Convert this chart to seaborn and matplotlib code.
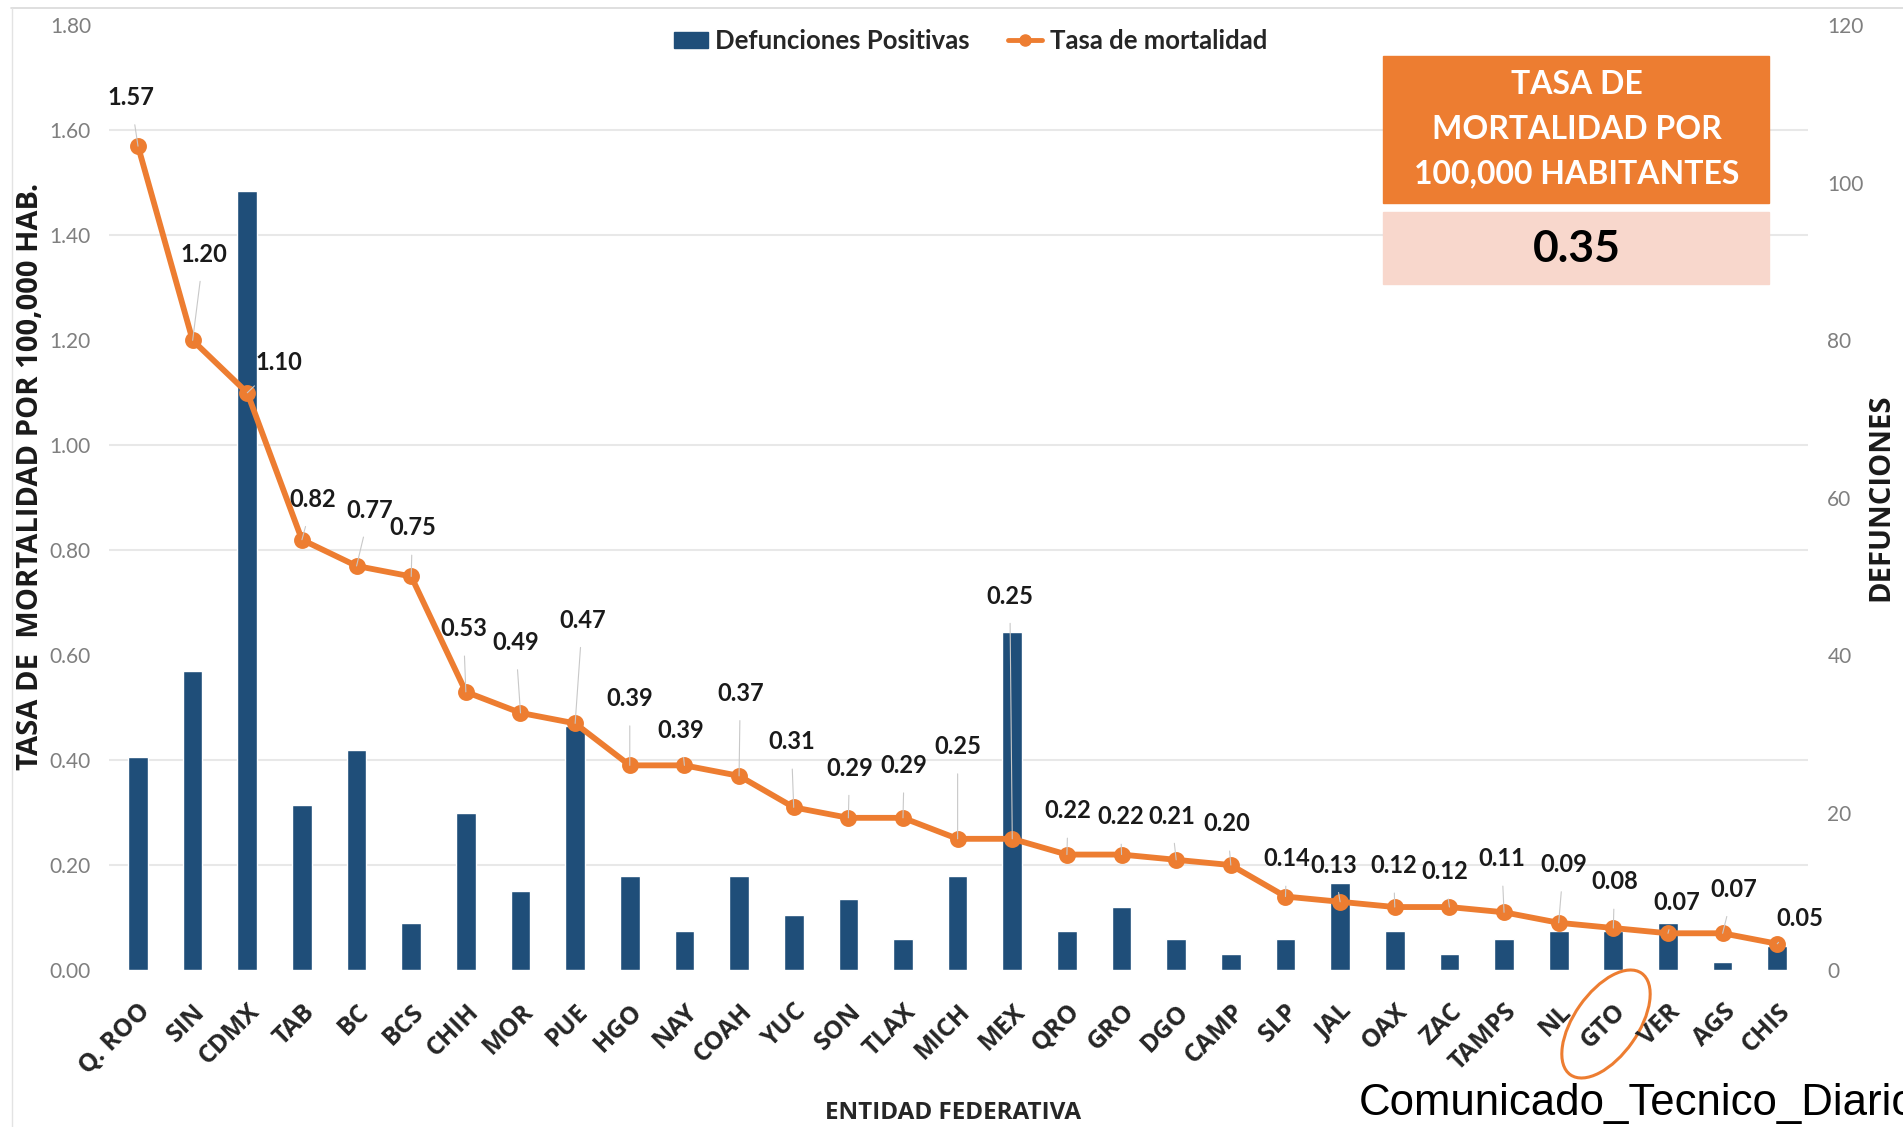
import numpy as np
import pandas as pd
import seaborn as sns
import matplotlib.pyplot as plt
from matplotlib.patches import Rectangle, Ellipse
from matplotlib.lines import Line2D
from matplotlib.ticker import FixedLocator
from matplotlib.transforms import IdentityTransform

# datos
entidades = ["Q. ROO", "SIN", "CDMX", "TAB", "BC", "BCS", "CHIH", "MOR", "PUE", "HGO",
             "NAY", "COAH", "YUC", "SON", "TLAX", "MICH", "MEX", "QRO", "GRO", "DGO",
             "CAMP", "SLP", "JAL", "OAX", "ZAC", "TAMPS", "NL", "GTO", "VER", "AGS", "CHIS"]
tasa = [1.57, 1.20, 1.10, 0.82, 0.77, 0.75, 0.53, 0.49, 0.47, 0.39,
        0.39, 0.37, 0.31, 0.29, 0.29, 0.25, 0.25, 0.22, 0.22, 0.21,
        0.20, 0.14, 0.13, 0.12, 0.12, 0.11, 0.09, 0.08, 0.07, 0.07, 0.05]
defunciones = [27, 38, 99, 21, 28, 6, 20, 10, 31, 12,
               5, 12, 7, 9, 4, 12, 43, 5, 8, 4,
               2, 4, 11, 5, 2, 4, 5, 5, 6, 1, 3]
tasa_nacional = "0.35"

# desplazamiento de cada etiqueta respecto a su punto (px)
label_off = [(-6, 40), (9, 71), (26, 25), (9, 33), (11, 46), (1, 40), (-2, 52), (-4, 58),
             (6, 85), (0, 55), (-3, 29), (1, 68), (-2, 54), (1, 41), (1, 43), (0, 76),
             (-2, 200), (1, 36), (-1, 31), (-4, 36), (-3, 34), (1, 31), (-5, 30), (-1, 34),
             (-4, 29), (-2, 44), (4, 48), (1, 38), (7, 25), (9, 36), (19, 21)]

AZUL = "#1F4E79"
NARANJA = "#ED7D31"
GRIS = "#7f7f7f"
BOLD_FONT = ["Open Sans", "DejaVu Sans"]

sns.set_theme(style="white")
plt.rcParams['font.family'] = ['Lato', 'DejaVu Sans']

df = pd.DataFrame({"entidad": entidades, "tasa": tasa, "defunciones": defunciones})

fig = plt.figure(figsize=(19.03, 11.27), dpi=100)
ax = fig.add_axes([0.0573, 0.1393, 0.8927, 0.8381])
ax_bar = ax.twinx()
ax.set_zorder(ax_bar.get_zorder() + 1)
ax.patch.set_visible(False)

sns.barplot(data=df, x="entidad", y="defunciones", color=AZUL, saturation=1,
            width=0.36, ax=ax_bar)
sns.pointplot(data=df, x="entidad", y="tasa", color=NARANJA, markers="o",
              linestyles="-", linewidth=4.2, markersize=9, errorbar=None, ax=ax)

n = len(entidades)
ax.set_xlim(-0.53, n - 0.44)
ax.set_ylim(0, 1.8)
ax_bar.set_ylim(0, 120)

ax.set_yticks(np.arange(0, 1.81, 0.2))
ax.set_yticklabels([f"{v:.2f}" for v in np.arange(0, 1.81, 0.2)])
ax_bar.set_yticks(np.arange(0, 121, 20))
ax.set_xticks(range(n))
ax.set_xticklabels(entidades, rotation=45, ha="right", va="top", rotation_mode="anchor",
                   fontsize=18, fontweight="bold", color="#262626", family=BOLD_FONT)

ax_bar.yaxis.set_minor_locator(FixedLocator(np.linspace(0, 120, 10)))
ax_bar.grid(which="minor", axis="y", color="#e8e8e8", lw=1.5)
ax_bar.set_axisbelow(True)
ax.grid(False)
ax.tick_params(axis="y", length=0, pad=13, labelsize=15, labelcolor=GRIS)
ax.tick_params(axis="x", length=0, pad=21)
ax_bar.tick_params(axis="y", which="both", length=0, pad=14, labelsize=15, labelcolor=GRIS)
for a in (ax, ax_bar):
    for s in a.spines.values():
        s.set_visible(False)

ax.set_xlabel("ENTIDAD FEDERATIVA", fontsize=17.5, fontweight="bold", color="#262626",
              family=BOLD_FONT, va="center")
ax.xaxis.set_label_coords(0.497, -0.1515)
ax.set_ylabel("TASA DE  MORTALIDAD POR 100,000 HAB.", fontsize=21, fontweight="bold",
              color="#1a1a1a", family=BOLD_FONT, va="center", ha="center")
ax.yaxis.set_label_coords(-0.0465, 0.523)
ax_bar.set_ylabel("DEFUNCIONES", fontsize=21, fontweight="bold", color="#1a1a1a",
                  rotation=90, family=BOLD_FONT, va="center", ha="center")
ax_bar.yaxis.set_label_coords(1.043, 0.5)

# etiquetas de datos
for i, (v, (dx, dy)) in enumerate(zip(tasa, label_off)):
    ax.annotate(f"{v:.2f}", xy=(i, v), xytext=(dx * 0.874, dy * 0.874),
                textcoords="offset points", ha="center", va="center",
                fontsize=17, fontweight="bold", color="#1a1a1a",
                arrowprops=dict(arrowstyle="-", color="#c8c8c8", lw=0.8,
                                shrinkA=9, shrinkB=0))

# leyenda
handles = [Rectangle((0, 0), 1, 1, color=AZUL),
           Line2D([], [], color=NARANJA, lw=3.5, marker="o", markersize=8)]
fig.legend(handles, ["Defunciones Positivas", "Tasa de mortalidad"], loc="center",
           bbox_to_anchor=(0.510, 0.9636), ncol=2, frameon=False,
           prop=dict(size=18.5, weight="bold"), handlelength=1.3, handleheight=0.6,
           handletextpad=0.3, columnspacing=1.5, labelcolor="#262626")

# recuadro de tasa nacional
fig.patches.append(Rectangle((0.727, 0.8201), 0.2028, 0.1304, transform=fig.transFigure,
                             color=NARANJA, figure=fig))
fig.patches.append(Rectangle((0.727, 0.748), 0.2028, 0.0635, transform=fig.transFigure,
                             color="#F8D7CC", figure=fig))
fig.text(0.8284, 0.8853, "TASA DE\nMORTALIDAD POR\n100,000 HABITANTES", ha="center",
         va="center", color="white", fontsize=23, fontweight="bold", linespacing=1.66)
fig.text(0.8284, 0.7795, tasa_nacional, ha="center", va="center", color="black",
         fontsize=32, fontweight="bold")

# marco superior e izquierdo
fig.add_artist(Line2D([0.006, 1], [0.993, 0.993], transform=fig.transFigure, color="#d9d9d9", lw=1.2))
fig.add_artist(Line2D([0.0063, 0.0063], [0, 0.993], transform=fig.transFigure, color="#e3e3e3", lw=1.0))

# circulo sobre GTO
fig.add_artist(Ellipse((1606, 103), 124, 64, angle=55, transform=IdentityTransform(),
                       fill=False, edgecolor=NARANJA, lw=2.2))

fig.text(0.714, 0.011, "Comunicado_Tecnico_Diario", ha="left", va="baseline",
         fontsize=31.5, color="black", family=["Liberation Sans", "DejaVu Sans"])

fig.savefig("out.png", dpi=100)
